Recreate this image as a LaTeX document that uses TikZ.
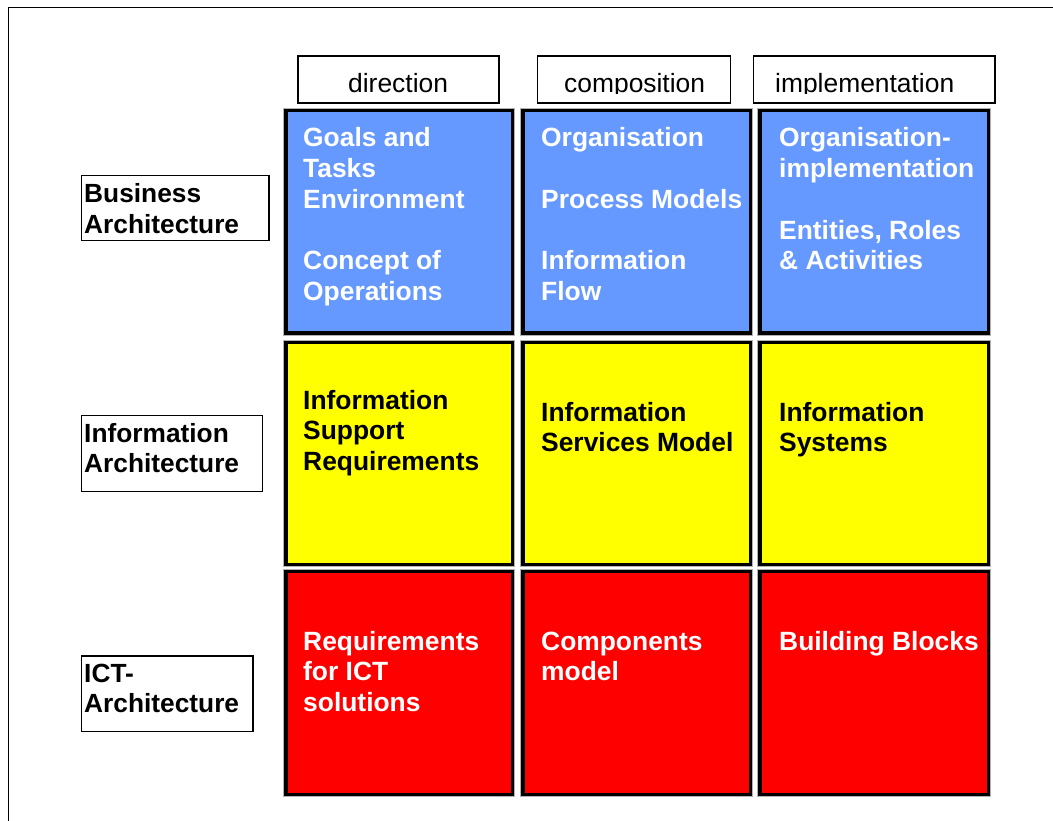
\documentclass[tikz,border=0pt]{standalone}
\usepackage{fontspec}
\setmainfont{Liberation Sans}
\definecolor{cblue}{RGB}{102,153,255}
\definecolor{cyellow}{RGB}{255,255,0}
\definecolor{cred}{RGB}{255,0,0}
\newcommand\Ln[1]{\hbox{#1}}
\newcommand\Lines[1]{\vtop{\baselineskip=30.7pt #1}}
\begin{document}
\begin{tikzpicture}[x=1pt,y=-1pt,
  cellbox/.style={rectangle, draw=black, line width=3.5pt, inner sep=0pt,
    preaction={draw=black!30, line width=5.5pt}},
  thinbox/.style={rectangle, draw=black, line width=1.3pt, inner sep=0pt, fill=white},
  celltext/.style={anchor=base west, inner sep=0pt, font=\fontsize{26.4}{30.7}\selectfont\bfseries},
  labeltext/.style={anchor=base west, inner sep=0pt, text=black, font=\fontsize{26.3}{30.7}\selectfont\bfseries},
  headtext/.style={anchor=base west, inner sep=0pt, text=black, font=\fontsize{26.4}{30.7}\selectfont}
]
\useasboundingbox (0,0) rectangle (1053,821);
\clip (0,0) rectangle (1053,821);
% outer frame
\draw[line width=1.3pt] (8.5,7.5) rectangle (1070,840);

% header boxes
\node[thinbox, minimum width=201pt, minimum height=47pt] (h1) at (398.5,79.5) {};
\node[thinbox, minimum width=193pt, minimum height=47pt] (h2) at (634,79.5) {};
\node[thinbox, minimum width=241.5pt, minimum height=47pt] (h3) at (874.2,79.5) {};
\begin{scope}
\clip (290,50) rectangle (1000,94);
\node[headtext] (ht1) at (348,92.5) {direction};
\node[headtext] (ht2) at (564,92.5) {composition};
\node[headtext] (ht3) at (775,92.5) {implementation};
\end{scope}

% row label boxes
\node[thinbox, minimum width=187.3pt, minimum height=65pt] (r1) at (175.35,208.2) {};
\node[thinbox, minimum width=180.6pt, minimum height=76pt] (r2) at (172,453.7) {};
\node[thinbox, minimum width=171.3pt, minimum height=75.7pt] (r3) at (167.35,693.85) {};
\node[labeltext] (rt1) at (84,202.5) {\Lines{\Ln{Business}\Ln{Architecture}}};
\node[labeltext] (rt2) at (84,442.2) {\Lines{\Ln{Information}\Ln{Architecture}}};
\node[labeltext] (rt3) at (84,682.2) {\Lines{\Ln{ICT-}\Ln{Architecture}}};

% cells
\node[cellbox, fill=cblue, minimum width=226.5pt, minimum height=222.5pt] (c11) at (399,222) {};
\node[cellbox, fill=cblue, minimum width=227.5pt, minimum height=222.5pt] (c12) at (636.5,222) {};
\node[cellbox, fill=cblue, minimum width=228.5pt, minimum height=222.5pt] (c13) at (874,222) {};
\node[cellbox, fill=cyellow, minimum width=226.5pt, minimum height=222pt] (c21) at (399,453.25) {};
\node[cellbox, fill=cyellow, minimum width=227.5pt, minimum height=222pt] (c22) at (636.5,453.25) {};
\node[cellbox, fill=cyellow, minimum width=228.5pt, minimum height=222pt] (c23) at (874,453.25) {};
\node[cellbox, fill=cred, minimum width=226.5pt, minimum height=223pt] (c31) at (399,682.75) {};
\node[cellbox, fill=cred, minimum width=227.5pt, minimum height=223pt] (c32) at (636.5,682.75) {};
\node[cellbox, fill=cred, minimum width=228.5pt, minimum height=223pt] (c33) at (874,682.75) {};

% cell texts
\node[celltext, text=white] (t11) at (303,147) {\Lines{\Ln{Goals and}\Ln{Tasks}\Ln{Environment}\Ln{}\Ln{Concept of}\Ln{Operations}}};
\node[celltext, text=white] (t12) at (541,147) {\Lines{\Ln{Organisation}\Ln{}\Ln{Process Models}\Ln{}\Ln{Information}\Ln{Flow}}};
\node[celltext, text=white] (t13) at (779,147) {\Lines{\Ln{Organisation-}\Ln{implementation}\Ln{}\Ln{Entities, Roles}\Ln{\& Activities}}};
\node[celltext, text=black] (t21) at (303,409) {\Lines{\Ln{Information}\Ln{Support}\Ln{Requirements}}};
\node[celltext, text=black] (t22) at (541,421) {\Lines{\Ln{Information}\Ln{Services Model}}};
\node[celltext, text=black] (t23) at (779,421) {\Lines{\Ln{Information}\Ln{Systems}}};
\node[celltext, text=white] (t31) at (303,650) {\Lines{\Ln{Requirements}\Ln{for ICT}\Ln{solutions}}};
\node[celltext, text=white] (t32) at (541,650) {\Lines{\Ln{Components}\Ln{model}}};
\node[celltext, text=white] (t33) at (779,650) {\Lines{\Ln{Building Blocks}}};
\end{tikzpicture}
\end{document}
